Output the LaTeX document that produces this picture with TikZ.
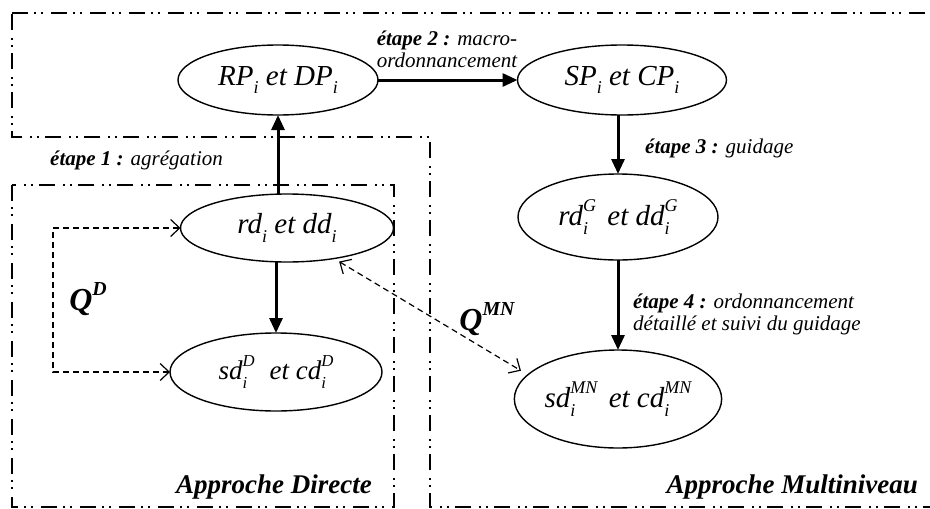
\documentclass[tikz,border=0pt]{standalone}
\usepackage{fontspec}
\setmainfont{Liberation Serif}
\usepackage{graphicx}
\usetikzlibrary{shapes.geometric,arrows.meta}

% index helpers: subscript, superscript, and both stacked
\newcommand\lowi[1]{\raisebox{-.3em}{\scalebox{.62}{#1}}}
\newcommand\highi[1]{\raisebox{.48em}{\scalebox{.62}{#1}}}
\newcommand\hilo[2]{\setbox0\hbox{\highi{#1}}\setbox2\hbox{\lowi{#2}}%
  \ifdim\wd0>\wd2 \wd2=\wd0 \else \wd0=\wd2 \fi\rlap{\box0}\box2\hspace{.14em}}

\tikzset{
  region/.style={line width=1.5pt,
    dash pattern=on 16pt off 6pt on 2pt off 5pt on 2pt off 8pt},
  state/.style={ellipse, draw, line width=1.4pt, inner sep=0pt, outer sep=0pt,
    font=\fontsize{29}{29}\selectfont\itshape},
  flow/.style={line width=3pt, -{Triangle[length=15pt,width=13pt]}},
  link/.style={line width=1.2pt, dash pattern=on 6pt off 4pt,
    {Straight Barb[length=9pt,width=17pt]}-{Straight Barb[length=9pt,width=17pt]}},
  stepnote/.style={inner sep=0pt, font=\fontsize{21}{22}\selectfont\itshape},
  qlabel/.style={inner sep=0pt, font=\fontsize{32}{32}\selectfont\bfseries\itshape},
  approach/.style={inner sep=0pt, font=\fontsize{27}{27}\selectfont\bfseries\itshape}
}

\begin{document}
\begin{tikzpicture}[x=1pt,y=-1pt]
  \useasboundingbox (0,0) rectangle (930,509);

  % regions: top band joined with the multilevel side, and the direct box
  \draw[region] (12,13) -- (950,13) -- (950,507) -- (430,507) -- (430,137)
    -- (12,137) -- cycle;
  \draw[region] (12,185) rectangle (394,507);

  % states
  \node[state, minimum width=200pt, minimum height=70pt] (RP) at (278,80)
    {RP\lowi{i} et DP\lowi{i}};
  \node[state, minimum width=209pt, minimum height=70pt] (SP) at (622,80)
    {SP\lowi{i} et CP\lowi{i}};
  \node[state, minimum width=213pt, minimum height=68pt] (rd) at (287,228)
    {rd\lowi{i} et dd\lowi{i}};
  \node[state, minimum width=200pt, minimum height=86pt] (rdG) at (618,217)
    {rd\hilo{G}{i} et dd\hilo{G}{i}};
  \node[state, minimum width=212pt, minimum height=78pt,
    font=\fontsize{27}{27}\selectfont\itshape] (sdD) at (276,372)
    {sd\hilo{D}{i}\, et cd\hilo{D}{i}};
  \node[state, minimum width=199pt, minimum height=98pt] (sdMN) at (618,399)
    {sd\hilo{MN}{i} et cd\hilo{MN}{i}};

  % main flow
  \draw[flow] (rd.north -| RP.south) -- (RP.south);
  \draw[flow] (RP.east) -- (SP.west);
  \draw[flow] (rdG.north |- SP.south) -- (rdG.north);
  \draw[flow] (rdG.south) -- (sdMN.north);
  \draw[flow] (sdD.north |- rd.south) -- (sdD.north);

  % comparison links
  \coordinate (qd) at (53,300);
  \draw[link] (rd.west) -| (qd) |- (sdD.west);
  \draw[link, shorten <=6pt, shorten >=8pt] (rd.-33) -- (sdMN.165);

  % step notes
  \node[stepnote, align=center] (s2) at (447,49)
    {\textbf{étape 2 :} macro-\\ordonnancement};
  \node[stepnote, anchor=west] (s1) at (50,160)
    {\textbf{étape 1 :} agrégation};
  \node[stepnote, anchor=west] (s3) at (645,148)
    {\textbf{étape 3 :} guidage};
  \node[stepnote, anchor=west, align=left] (s4) at (633,314)
    {\textbf{étape 4 :} ordonnancement\\détaillé et suivi du guidage};

  % indicator labels
  \node[qlabel] (qD) at (88,299) {Q\highi{D}};
  \node[qlabel] (qMN) at (487,319) {Q\highi{MN}};

  % approach titles
  \node[approach, anchor=east] (ad) at (372,487) {Approche Directe};
  \node[approach, anchor=east] (am) at (918,487) {Approche Multiniveau};
\end{tikzpicture}
\end{document}
